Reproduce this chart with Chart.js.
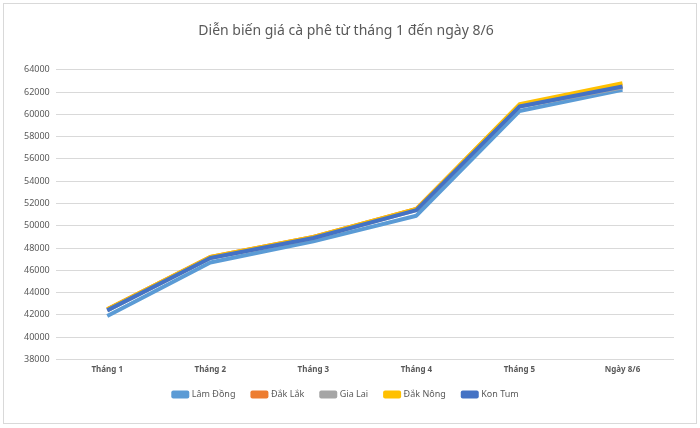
<!DOCTYPE html>
<html>
<head>
<meta charset="utf-8">
<script src="https://cdn.jsdelivr.net/npm/chart.js@4"></script>
<style>
  html, body { margin: 0; padding: 0; background: #fff; }
  #box {
    position: absolute; left: 3px; top: 3px;
    width: 692px; height: 419px;
    border: 1px solid #d9d9d9;
  }
</style>
</head>
<body>
<div id="box"><canvas id="myChart"></canvas></div>
<script>
// Dữ liệu giá cà phê (đồng/kg)
const categories = ['Tháng 1', 'Tháng 2', 'Tháng 3', 'Tháng 4', 'Tháng 5', 'Ngày 8/6'];
const lamDong = [41900, 46700, 48600, 50900, 60300, 62200];
const dakLak  = [42500, 47200, 49000, 51500, 60800, 62500];
const giaLai  = [42400, 47100, 48900, 51400, 60700, 62400];
const dakNong = [42500, 47200, 49000, 51500, 60900, 62800];
const konTum  = [42400, 47100, 48900, 51400, 60700, 62500];

const fontFamily = "'Noto Sans', 'Open Sans', sans-serif";

// order: số lớn vẽ trước, Kon Tum nằm trên cùng
function line(label, data, color, order) {
    return {
        label: label,
        data: data,
        borderColor: color,
        backgroundColor: color,
        borderWidth: 4,
        pointRadius: 0,
        tension: 0,
        borderJoinStyle: 'round',
        order: order
    };
}

// Đẩy chú thích lên gần trục x hơn
const legendShift = {
    id: 'legendShift',
    afterLayout(chart) {
        chart.legend.top -= 8;
        chart.legend.bottom -= 8;
    }
};

const ctx = document.getElementById('myChart').getContext('2d');
new Chart(ctx, {
    type: 'line',
    data: {
        labels: categories,
        datasets: [
            line('Lâm Đồng', lamDong, '#5B9BD5', 5),
            line('Đắk Lắk', dakLak, '#ED7D31', 4),
            line('Gia Lai', giaLai, '#A5A5A5', 3),
            line('Đắk Nông', dakNong, '#FFC000', 2),
            line('Kon Tum', konTum, '#4472C4', 1)
        ]
    },
    plugins: [legendShift],
    options: {
        responsive: true,
        maintainAspectRatio: false,
        animation: false,
        layout: { padding: { left: 14, right: 22, top: 19, bottom: 6 } },
        plugins: {
            title: {
                display: true,
                text: 'Diễn biến giá cà phê từ tháng 1 đến ngày 8/6',
                color: '#595959',
                font: { family: fontFamily, size: 14, weight: 'normal' },
                padding: { top: 0, bottom: 30 }
            },
            legend: {
                position: 'bottom',
                labels: {
                    color: '#595959',
                    font: { family: fontFamily, size: 9 },
                    boxWidth: 14,
                    boxHeight: 4,
                    padding: 17,
                    sort: (a, b) => a.datasetIndex - b.datasetIndex
                }
            },
            tooltip: { enabled: false }
        },
        scales: {
            x: {
                offset: true,
                grid: { display: false, drawTicks: false },
                border: { display: false },
                ticks: {
                    color: '#595959',
                    font: { family: fontFamily, size: 8, weight: 'bold' },
                    padding: 6,
                    maxRotation: 0
                }
            },
            y: {
                min: 38000,
                max: 64000,
                grid: { color: '#d9d9d9', lineWidth: 1, drawTicks: false },
                border: { display: false },
                ticks: {
                    stepSize: 2000,
                    color: '#595959',
                    font: { family: fontFamily, size: 9 },
                    padding: 6,
                    callback: v => String(v)
                }
            }
        }
    }
});
</script>
</body>
</html>
